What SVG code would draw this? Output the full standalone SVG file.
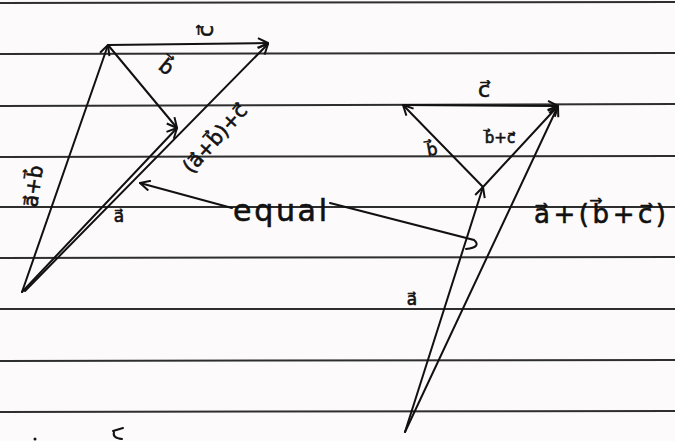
<svg xmlns="http://www.w3.org/2000/svg" width="675" height="441" viewBox="0 0 675 441">
<defs>
<marker id="ah" viewBox="0 0 12 12" refX="11" refY="6" markerWidth="12" markerHeight="12" markerUnits="userSpaceOnUse" orient="auto">
<path d="M1,1 L11,6 L1,11" fill="none" stroke="#111" stroke-width="2" stroke-linejoin="round"/>
</marker>
</defs>
<style>
.rule{stroke:#2e2e2e;stroke-width:2}
.v{stroke:#111;stroke-width:2;fill:none;stroke-linecap:round;marker-end:url(#ah)}
.p{stroke:#111;stroke-width:2;fill:none;stroke-linecap:round}
.t{font-family:"DejaVu Sans","Liberation Sans",sans-serif;fill:#111;stroke:#111;stroke-width:0.6;text-anchor:middle}
</style>
<rect width="675" height="441" fill="#fcfafa"/>
<g id="paper-lines">
<line class="rule" x1="0" y1="3" x2="675" y2="2"/>
<line class="rule" x1="0" y1="54" x2="675" y2="53"/>
<line class="rule" x1="0" y1="106" x2="675" y2="104"/>
<line class="rule" x1="0" y1="157" x2="675" y2="156"/>
<line class="rule" x1="0" y1="207" x2="675" y2="207"/>
<line class="rule" x1="0" y1="258" x2="675" y2="257"/>
<line class="rule" x1="0" y1="309" x2="675" y2="309"/>
<line class="rule" x1="0" y1="361" x2="675" y2="360"/>
<line class="rule" x1="0" y1="412" x2="675" y2="411"/>
</g>
<g id="connectors">
<line class="v" x1="22" y1="292" x2="108" y2="45"/>
<line class="v" x1="108" y1="45" x2="268" y2="43"/>
<line class="v" x1="108" y1="45" x2="177" y2="128"/>
<line class="v" x1="22" y1="292" x2="177" y2="128"/>
<line class="v" x1="25" y1="291" x2="268" y2="44"/>
<line class="v" x1="405" y1="432" x2="483" y2="187"/>
<line class="v" x1="483" y1="187" x2="403" y2="105"/>
<line class="v" x1="403" y1="105" x2="558" y2="106"/>
<line class="v" x1="483" y1="187" x2="558" y2="106"/>
<line class="v" x1="405" y1="432" x2="558" y2="106"/>
<line class="v" x1="232" y1="208" x2="140" y2="183"/>
<path class="p" d="M330,203 L474,240 Q482,247 466,249"/>
</g>
<g id="left-labels">
<text class="t" font-size="22" transform="translate(213,31) rotate(-90)">c⃗</text>
<text class="t" font-size="20" transform="translate(162,72) rotate(40)">b⃗</text>
<text class="t" font-size="20" transform="translate(220,143) rotate(-48)">(a⃗+b⃗)+c⃗</text>
<text class="t" font-size="20" transform="translate(40,187) rotate(-82)">a⃗+b⃗</text>
<text class="t" font-size="17" x="119" y="222">a⃗</text>
</g>
<g id="equal-label">
<text class="t" font-size="30" x="280" y="221" textLength="94">equal</text>
</g>
<g id="right-labels">
<text class="t" font-size="22" x="484" y="97">c⃗</text>
<text class="t" font-size="17" transform="translate(433,155) rotate(-10)">b⃗</text>
<text class="t" font-size="15" x="500" y="143">b⃗+c⃗</text>
<text class="t" font-size="26" x="600" y="223" textLength="132">a⃗+(b⃗+c⃗)</text>
<text class="t" font-size="17" x="412" y="305">a⃗</text>
</g>
<g id="margin-marks">
<path class="p" d="M113,431 L123,428 M114,432 Q112,438 122,439"/>
<circle cx="35" cy="439" r="1.5" fill="#111"/>
</g>
</svg>
